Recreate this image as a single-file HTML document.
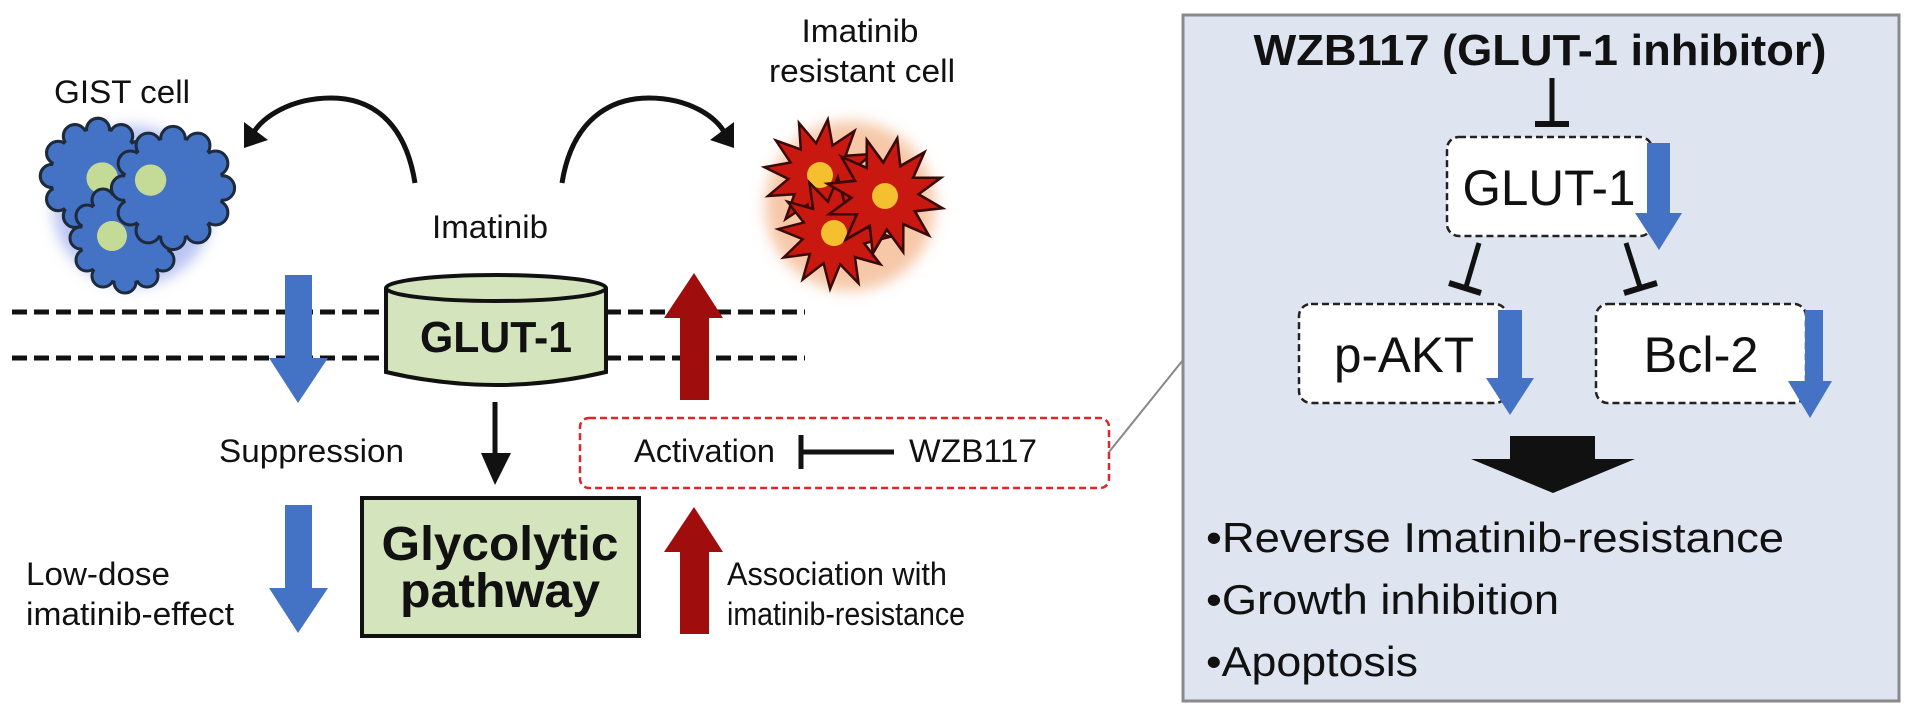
<!DOCTYPE html>
<html><head><meta charset="utf-8"><style>
html,body{margin:0;padding:0;background:#fff;}
svg{display:block;}
text{font-family:"Liberation Sans",Arial,sans-serif;fill:#111;}
</style></head><body>
<svg width="1913" height="711" viewBox="0 0 1913 711" xmlns="http://www.w3.org/2000/svg">
<defs>
<filter id="bl" x="-30%" y="-30%" width="160%" height="160%"><feGaussianBlur stdDeviation="7"/></filter>
<polygon id="star" points="56,0 30.9,8.3 48.5,28 22.6,22.6 28,48.5 8.3,30.9 0,56 -8.3,30.9 -28,48.5 -22.6,22.6 -48.5,28 -30.9,8.3 -56,0 -30.9,-8.3 -48.5,-28 -22.6,-22.6 -28,-48.5 -8.3,-30.9 0,-56 8.3,-30.9 28,-48.5 22.6,-22.6 48.5,-28 30.9,-8.3"/>
<g id="bumps">
<circle cx="0" cy="-44" r="11"/><circle cx="22" cy="-38" r="11"/><circle cx="38" cy="-22" r="11"/><circle cx="44" cy="0" r="11"/><circle cx="38" cy="22" r="11"/><circle cx="22" cy="38" r="11"/><circle cx="0" cy="44" r="11"/><circle cx="-22" cy="38" r="11"/><circle cx="-38" cy="22" r="11"/><circle cx="-44" cy="0" r="11"/><circle cx="-38" cy="-22" r="11"/><circle cx="-22" cy="-38" r="11"/>
</g>
</defs>

<!-- GIST cells -->
<g transform="translate(8,-4)">
<circle cx="125" cy="210" r="80" fill="#b9c4f2" filter="url(#bl)"/>
<g transform="translate(90,180) scale(1.05)"><use href="#bumps" fill="#4472c4" stroke="#1d2b3c" stroke-width="3"/><circle r="44" fill="#4472c4"/><circle cx="4" cy="2" r="15" fill="#c4db98"/></g>
<g transform="translate(117,242)"><use href="#bumps" fill="#4472c4" stroke="#1d2b3c" stroke-width="3"/><circle r="44" fill="#4472c4"/><circle cx="-13" cy="-2" r="15" fill="#c4db98"/></g>
<g transform="translate(165,192) scale(1.12)"><use href="#bumps" fill="#4472c4" stroke="#1d2b3c" stroke-width="2.7"/><circle r="44" fill="#4472c4"/><circle cx="-20" cy="-7" r="14" fill="#c4db98"/></g>
</g>

<!-- resistant cells -->
<g transform="translate(-18,-2)">
<circle cx="868" cy="208" r="85" fill="#f6c8a8" filter="url(#bl)"/>
<g transform="translate(838,177) rotate(8)"><use href="#star" fill="#c8180f" stroke="#3a0a0a" stroke-width="2.5"/></g>
<circle cx="838" cy="177" r="13" fill="#f5c030"/>
<g transform="translate(852,235) rotate(4)"><use href="#star" fill="#c8180f" stroke="#3a0a0a" stroke-width="2.5"/></g>
<circle cx="852" cy="235" r="13" fill="#f5c030"/>
<g transform="translate(903,198) rotate(12) scale(1.05)"><use href="#star" fill="#c8180f" stroke="#3a0a0a" stroke-width="2.5"/></g>
<circle cx="903" cy="198" r="13" fill="#f5c030"/>
</g>

<g font-size="32">
<text x="122" y="103" text-anchor="middle" textLength="136" lengthAdjust="spacingAndGlyphs">GIST cell</text>
<text x="860" y="42" text-anchor="middle" textLength="117" lengthAdjust="spacingAndGlyphs">Imatinib</text>
<text x="862" y="82" text-anchor="middle" textLength="186" lengthAdjust="spacingAndGlyphs">resistant cell</text>
<text x="490" y="238" text-anchor="middle" textLength="116" lengthAdjust="spacingAndGlyphs">Imatinib</text>
</g>

<!-- arcs -->
<path d="M415,183 C405,120 370,98 331,98 C290,98 262,118 254,132" fill="none" stroke="#111" stroke-width="5"/>
<polygon points="244,122 268,140 244,148" fill="#111"/>
<path d="M562,183 C572,120 610,98 649,98 C690,98 717,118 724,132" fill="none" stroke="#111" stroke-width="5"/>
<polygon points="734,122 710,140 734,148" fill="#111"/>

<!-- membrane -->
<line x1="12" y1="312" x2="805" y2="312" stroke="#111" stroke-width="5" stroke-dasharray="15,7"/>
<line x1="12" y1="358" x2="805" y2="358" stroke="#111" stroke-width="5" stroke-dasharray="15,7"/>

<!-- cylinder -->
<path d="M386,288 L386,372 Q496,398 606,372 L606,288" fill="#d4e4bc" stroke="#111" stroke-width="4"/>
<ellipse cx="496" cy="288" rx="110" ry="13" fill="#d4e4bc" stroke="#111" stroke-width="4"/>
<text x="496" y="352" font-size="44" font-weight="bold" text-anchor="middle" textLength="152" lengthAdjust="spacingAndGlyphs">GLUT-1</text>

<!-- blue arrows left -->
<polygon points="285,275 312,275 312,358 328,358 298,403 269,358 285,358" fill="#4472c4"/>
<polygon points="285,505 312,505 312,588 328,588 298,633 269,588 285,588" fill="#4472c4"/>
<!-- red arrows -->
<polygon points="694,273 723,318 709,318 709,400 680,400 680,318 664,318" fill="#a00d0d"/>
<polygon points="694,507 723,552 709,552 709,634 680,634 680,552 664,552" fill="#a00d0d"/>

<!-- black arrow -->
<line x1="495" y1="402" x2="495" y2="458" stroke="#111" stroke-width="5"/>
<polygon points="481,453 511,453 495,485" fill="#111"/>

<g font-size="32">
<text x="219" y="462" textLength="185" lengthAdjust="spacingAndGlyphs">Suppression</text>
<text x="26" y="585" textLength="144" lengthAdjust="spacingAndGlyphs">Low-dose</text>
<text x="26" y="625" textLength="208" lengthAdjust="spacingAndGlyphs">imatinib-effect</text>
<text x="727" y="585" textLength="220" lengthAdjust="spacingAndGlyphs">Association with</text>
<text x="727" y="625" textLength="238" lengthAdjust="spacingAndGlyphs">imatinib-resistance</text>
</g>

<!-- red dashed box -->
<rect x="580" y="418" width="529" height="70" rx="9" fill="#fff" stroke="#e0262a" stroke-width="2.5" stroke-dasharray="7,4"/>
<text x="634" y="462" font-size="32" textLength="141" lengthAdjust="spacingAndGlyphs">Activation</text>
<line x1="801" y1="435" x2="801" y2="469" stroke="#111" stroke-width="5"/>
<line x1="801" y1="452" x2="894" y2="452" stroke="#111" stroke-width="5"/>
<text x="909" y="462" font-size="32" textLength="128" lengthAdjust="spacingAndGlyphs">WZB117</text>

<!-- glycolytic -->
<rect x="362" y="498" width="277" height="138" fill="#d4e4bc" stroke="#111" stroke-width="4"/>
<text x="500" y="560" font-size="48" font-weight="bold" text-anchor="middle" textLength="237" lengthAdjust="spacingAndGlyphs">Glycolytic</text>
<text x="500" y="607" font-size="48" font-weight="bold" text-anchor="middle" textLength="200" lengthAdjust="spacingAndGlyphs">pathway</text>

<!-- connector -->
<line x1="1109" y1="452" x2="1183" y2="360" stroke="#888" stroke-width="2"/>

<!-- right panel -->
<rect x="1183" y="15" width="716" height="686" fill="#dfe4f1" stroke="#8a8a8a" stroke-width="3"/>
<text x="1540" y="65" font-size="44" font-weight="bold" text-anchor="middle" textLength="573" lengthAdjust="spacingAndGlyphs">WZB117 (GLUT-1 inhibitor)</text>
<line x1="1552" y1="78" x2="1552" y2="123" stroke="#111" stroke-width="5"/>
<line x1="1535" y1="124" x2="1569" y2="124" stroke="#111" stroke-width="6"/>

<rect x="1447" y="137" width="205" height="99" rx="12" fill="#fff" stroke="#222" stroke-width="2.5" stroke-dasharray="7,4"/>
<text x="1549" y="205" font-size="50" text-anchor="middle" textLength="173" lengthAdjust="spacingAndGlyphs">GLUT-1</text>
<polygon points="1647,143 1670,143 1670,213 1682,213 1659,250 1635,213 1647,213" fill="#4472c4"/>

<line x1="1479" y1="243" x2="1466" y2="287" stroke="#111" stroke-width="5"/>
<line x1="1449" y1="283" x2="1481" y2="293" stroke="#111" stroke-width="6"/>
<line x1="1626" y1="243" x2="1640" y2="287" stroke="#111" stroke-width="5"/>
<line x1="1624" y1="293" x2="1657" y2="283" stroke="#111" stroke-width="6"/>

<rect x="1299" y="304" width="208" height="99" rx="12" fill="#fff" stroke="#222" stroke-width="2.5" stroke-dasharray="7,4"/>
<text x="1404" y="372" font-size="50" text-anchor="middle" textLength="140" lengthAdjust="spacingAndGlyphs">p-AKT</text>
<polygon points="1498,310 1522,310 1522,378 1534,378 1510,415 1486,378 1498,378" fill="#4472c4"/>

<rect x="1596" y="304" width="210" height="99" rx="12" fill="#fff" stroke="#222" stroke-width="2.5" stroke-dasharray="7,4"/>
<text x="1701" y="372" font-size="50" text-anchor="middle" textLength="115" lengthAdjust="spacingAndGlyphs">Bcl-2</text>
<polygon points="1805,310 1823,310 1823,381 1832,381 1810,418 1788,381 1805,381" fill="#4472c4"/>

<polygon points="1510,436 1595,436 1595,459 1635,459 1553,493 1471,459 1510,459" fill="#111"/>

<g font-size="42">
<text x="1206" y="552" textLength="578" lengthAdjust="spacingAndGlyphs">•Reverse Imatinib-resistance</text>
<text x="1206" y="614" textLength="353" lengthAdjust="spacingAndGlyphs">•Growth inhibition</text>
<text x="1206" y="676" textLength="212" lengthAdjust="spacingAndGlyphs">•Apoptosis</text>
</g>
</svg>
</body></html>
